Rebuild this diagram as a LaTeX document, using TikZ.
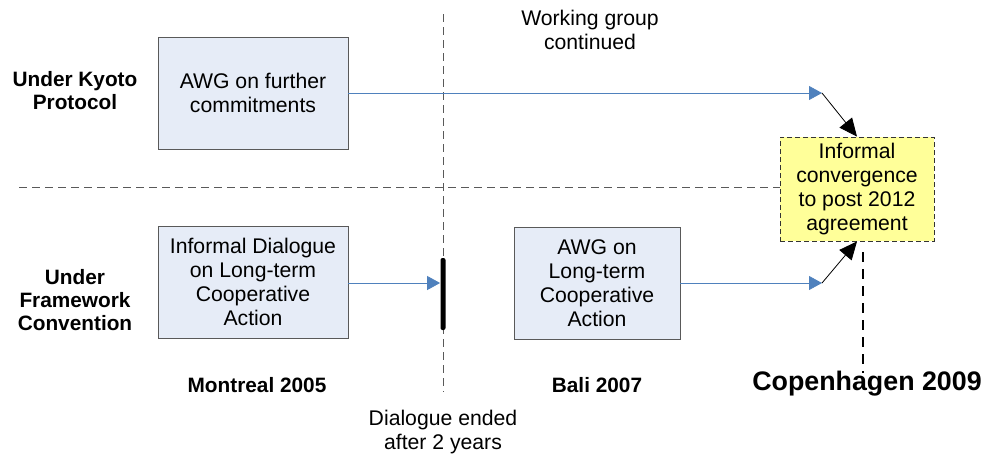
\documentclass[tikz,border=0pt]{standalone}
\usepackage{fontspec}
\setmainfont{Liberation Sans}
\usetikzlibrary{arrows.meta, positioning}
\definecolor{boxblue}{RGB}{230, 236, 247}
\definecolor{arrowblue}{RGB}{79, 129, 189}
\definecolor{noteyellow}{RGB}{255, 255, 153}

\begin{document}
\begin{tikzpicture}[
  x=0.5pt, y=-0.5pt,
  phasebox/.style={draw=black!65, fill=boxblue, minimum width=95pt, minimum height=56pt, align=center, font=\fontsize{10.6}{12}\selectfont},
  goalbox/.style={draw=black!80, dash pattern=on 2.5pt off 1.5pt, fill=noteyellow, minimum width=77pt, minimum height=52pt, align=center, font=\fontsize{10.6}{12}\selectfont, inner sep=1pt},
  rowlabel/.style={align=center, font=\fontsize{10.4}{11.5}\selectfont\bfseries},
  note/.style={align=center, font=\fontsize{10.6}{12}\selectfont},
  flow/.style={draw=arrowblue, -{Triangle[length=6.5pt, width=7pt]}},
  merge/.style={draw=black, thin, -{Triangle[length=9pt, width=8pt]}},
  divider/.style={draw=black!65, dash pattern=on 4pt off 2.5pt}
]
\useasboundingbox (0,0) rectangle (984,456);

% time and row dividers
\draw[divider] (443,14) -- (443,392);
\draw[divider] (19,187) -- (780,187);

% boxes
\node[phasebox] (awgkp) at (253,93) {AWG on further\\commitments};
\node[phasebox] (dialog) at (253,282) {Informal Dialogue\\on Long-term\\Cooperative\\Action};
\node[phasebox, minimum width=83pt] (awglca) at (597,283) {AWG on\\Long-term\\Cooperative\\Action};
\node[goalbox] (conv) at (857,189) {Informal\\convergence\\to post 2012\\agreement};

% end of dialogue
\node[fill=black, minimum width=2.5pt, minimum height=36pt, inner sep=0pt, rounded corners=1pt] (bar) at (443,294) {};

% labels
\node[rowlabel] (kyoto) at (75,91) {Under Kyoto\\Protocol};
\node[rowlabel] (unfccc) at (75,300) {Under\\Framework\\Convention};
\node[note] (wgc) at (590,30) {Working group\\continued};
\node[rowlabel] (montreal) at (257,385) {Montreal 2005};
\node[note] (ended) at (443,432) {Dialogue ended\\after 2 years};
\node[rowlabel] (bali) at (597,385) {Bali 2007};
\node[rowlabel, font=\fontsize{13.4}{15}\selectfont\bfseries] (cph) at (867,384) {Copenhagen 2009};

% arrows
\coordinate (kpbend) at (822,93);
\coordinate (lcabend) at (822,283);
\coordinate (cphtop) at (863,252);
\coordinate (cphbot) at (863,373);
\draw[flow] (awgkp.east) -- (kpbend);
\draw[merge] (kpbend) -- (conv.north);
\draw[flow] (dialog.east |- awglca.east) -- (bar.west |- awglca.east);
\draw[flow] (awglca.east) -- (lcabend);
\draw[merge] (lcabend) -- (conv.south);
\draw[black, line width=1pt, dash pattern=on 5pt off 3.5pt] (cphtop) -- (cphbot);
\end{tikzpicture}
\end{document}
